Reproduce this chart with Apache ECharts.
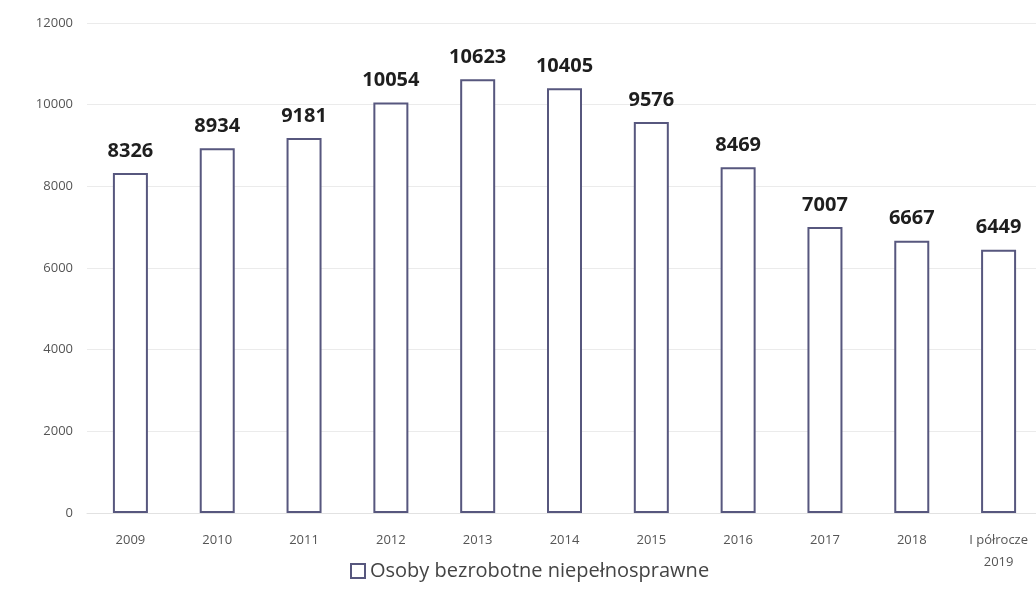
<!DOCTYPE html>
<html>
<head>
<meta charset="utf-8">
<script src="https://cdn.jsdelivr.net/npm/echarts@6/dist/echarts.min.js"></script>
<style>
  html, body { margin: 0; padding: 0; background: #fff; }
  #chart { width: 1036px; height: 597px; }
</style>
</head>
<body>
<div id="chart"></div>
<script>
// kategorie i wartości
var categories = ["2009", "2010", "2011", "2012", "2013", "2014", "2015", "2016", "2017", "2018", "I półrocze\n2019"];
var values = [8326, 8934, 9181, 10054, 10623, 10405, 9576, 8469, 7007, 6667, 6449];
var seriesName = "Osoby bezrobotne niepełnosprawne";

var myChart = echarts.init(document.getElementById("chart"));

var option = {
  backgroundColor: "#ffffff",
  animation: false,
  textStyle: { fontFamily: "Open Sans" },
  grid: {
    left: 87,
    top: 23,
    width: 955, // ostatnia kategoria wychodzi poza prawą krawędź
    bottom: 84,
    containLabel: false,
    outerBoundsMode: "none",
  },
  legend: {
    bottom: 11,
    left: 345,
    itemWidth: 14,
    itemHeight: 14,
    itemGap: 4,
    icon: "rect",
    textStyle: { color: "#444", fontSize: 20, fontFamily: "Open Sans" },
    data: [seriesName],
  },
  xAxis: {
    type: "category",
    data: categories,
    axisTick: { show: false },
    axisLine: { lineStyle: { color: "#e2e2e2", width: 1 } },
    axisLabel: {
      color: "#555",
      fontSize: 13,
      margin: 16,
      lineHeight: 22,
      interval: 0,
    },
  },
  yAxis: {
    type: "value",
    min: 0,
    max: 12000,
    interval: 2000,
    axisLine: { show: false },
    axisTick: { show: false },
    axisLabel: {
      color: "#555",
      fontSize: 13,
      margin: 14,
      formatter: function (v) { return String(v); },
    },
    splitLine: { lineStyle: { color: "#ebebeb", width: 1 } },
  },
  series: [
    {
      name: seriesName,
      type: "bar",
      data: values,
      barWidth: 35,
      itemStyle: {
        color: "#ffffff",
        borderColor: "#57577e",
        borderWidth: 2,
      },
      label: {
        show: true,
        position: "top",
        distance: 12,
        color: "#1e1e1e",
        fontSize: 20,
        fontWeight: "bold",
        fontFamily: "Open Sans",
      },
    },
  ],
};

myChart.setOption(option);
</script>
</body>
</html>
